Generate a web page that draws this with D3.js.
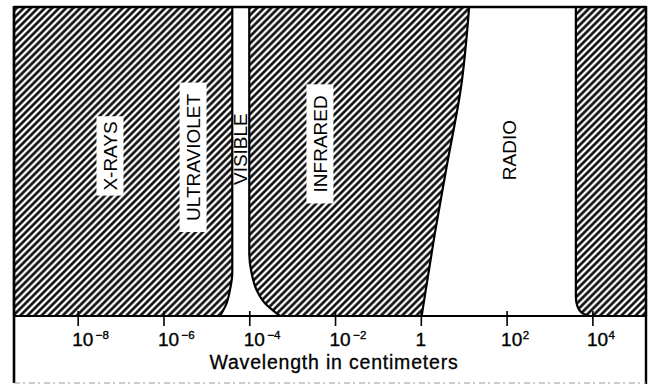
<!DOCTYPE html>
<html><head><meta charset="utf-8">
<script src="https://cdn.jsdelivr.net/npm/d3@7"></script>
<style>
html,body{margin:0;padding:0;background:#fff;}
svg{display:block;}
text{font-family:"Liberation Sans",Arial,Helvetica,sans-serif;fill:#000;}
</style></head>
<body>
<script>
// ---- data (log10 of wavelength in cm, relative height 0..1) ----
const tickExponents = [-8, -6, -4, -2, 0, 2, 4];
const domainExponents = [-9.485, 5.25];
const visibleLeftEdge  = [[-4.396,1],[-4.396,0.139],[-4.45,0.084],[-4.527,0.042],[-4.683,0]];
const visibleRightEdge = [[-4.0,1],[-4.0,0.203],[-3.944,0.138],[-3.828,0.084],[-3.634,0.041],[-3.284,0]];
const radioLeftEdge    = [[1.127,1],[0.951,0.754],[0.601,0.482],[0.329,0.269],[0.079,0.052],[0.019,0]];
const radioRightEdge   = [[3.615,1],[3.615,0.061],[3.65,0.032],[3.74,0.012],[3.918,0]];
const bandNames   = ["X-RAYS","ULTRAVIOLET","VISIBLE","INFRARED","RADIO"];
const bandCenters = [-7.247, -5.31, -4.205, -2.352, 2.065];
const bandHeights = [0.518, 0.513, 0.540, 0.557, 0.537];
const bandBoxed   = [true, true, false, true, false];
const axisTitle = "Wavelength in centimeters";

// ---- layout ----
const W = 652, H = 385;
const fL = 14, fR = 646, fT = 7, axisY = 316, fB = 383;

const svg = d3.select("body").append("svg").attr("width", W).attr("height", H);

const x = d3.scaleLog().domain(domainExponents.map(e => 10 ** e)).range([fL, fR]);
const y = d3.scaleLinear().domain([0, 1]).range([axisY, fT]);
const px = e => x(10 ** e);

// hatch pattern
const defs = svg.append("defs");
const pat = defs.append("pattern").attr("id", "hatch")
  .attr("patternUnits", "userSpaceOnUse").attr("width", 5.0).attr("height", 5.0)
  .attr("patternTransform", "rotate(45)");
pat.append("line").attr("x1", 2.5).attr("y1", -1).attr("x2", 2.5).attr("y2", 7)
  .attr("stroke", "#000").attr("stroke-width", 2.5);

const edge = d3.line().x(d => px(d[0])).y(d => y(d[1])).curve(d3.curveMonotoneY);
const seg = pts => edge(pts).replace(/^M/, "L");

const regionA = `M${fL},${fT}` + seg(visibleLeftEdge) + `L${fL},${axisY}Z`;
const regionB = edge(visibleRightEdge) + seg(radioLeftEdge.slice().reverse()) + "Z";
const regionC = edge(radioRightEdge) + `L${fR},${axisY}L${fR},${fT}Z`;

svg.selectAll("path.region").data([regionA, regionB, regionC]).join("path")
  .attr("class", "region").attr("d", d => d)
  .attr("fill", "url(#hatch)").attr("stroke", "#000").attr("stroke-width", 2.2)
  .attr("stroke-linejoin", "round");

// band labels
const lab = svg.selectAll("g.band").data(bandNames).join("g").attr("class", "band")
  .attr("transform", (d, i) => `translate(${px(bandCenters[i])},${y(bandHeights[i])}) rotate(-90)`);
lab.each(function (d, i) {
  const g = d3.select(this);
  const t = g.append("text").attr("text-anchor", "middle").attr("dy", "0.36em")
    .attr("font-size", 19).text(d);
  if (bandBoxed[i]) {
    const b = t.node().getBBox();
    const padL = i === 0 ? 5 : 11, padS = 4;
    g.insert("rect", "text")
      .attr("x", b.x - padL).attr("width", b.width + 2 * padL)
      .attr("y", -9.5 - padS).attr("height", 19 + 2 * padS)
      .attr("fill", "#fff");
  }
});

// frame
svg.append("line").attr("x1", fL).attr("x2", fR).attr("y1", fT).attr("y2", fT)
  .attr("stroke", "#000").attr("stroke-width", 2.6);
svg.append("line").attr("x1", fL).attr("x2", fL).attr("y1", fT - 1).attr("y2", fB)
  .attr("stroke", "#000").attr("stroke-width", 2.6);
svg.append("line").attr("x1", fR).attr("x2", fR).attr("y1", fT - 1).attr("y2", fB + 1)
  .attr("stroke", "#000").attr("stroke-width", 2.4);
svg.append("line").attr("x1", fL).attr("x2", fR).attr("y1", fB).attr("y2", fB)
  .attr("stroke", "#999").attr("stroke-width", 1).attr("stroke-dasharray", "6,3,2,4");

// axis
const ax = svg.append("g").attr("transform", `translate(0,${axisY})`)
  .call(d3.axisBottom(x).tickValues(tickExponents.map(e => 10 ** e)).tickSize(10).tickFormat(""));
ax.select(".domain").attr("stroke", "#000").attr("stroke-width", 2.2).attr("d", `M${fL},0H${fR}`);
ax.selectAll(".tick line").attr("y1", -5).attr("y2", 10).attr("stroke", "#000").attr("stroke-width", 1.6);

const tl = svg.selectAll("text.tl").data(tickExponents).join("text").attr("class", "tl")
  .attr("y", 345.5).attr("font-size", 19)
  .attr("stroke", "#000").attr("stroke-width", 0.35)
  .attr("x", e => e === 0 ? px(e) : px(e) - 5.5)
  .attr("text-anchor", e => e === 0 ? "middle" : "start");
tl.each(function (e) {
  const t = d3.select(this);
  if (e === 0) { t.text("1"); return; }
  t.append("tspan").text("10");
  t.append("tspan").attr("font-size", 11.5).attr("dx", e < 0 ? 2.5 : 0.5).attr("dy", -6.5)
    .text(e < 0 ? "\u2212" + (-e) : String(e));
});

svg.append("text").attr("x", 334).attr("y", 368.5).attr("text-anchor", "middle")
  .attr("font-size", 19.5).attr("letter-spacing", 0.8)
  .attr("stroke", "#000").attr("stroke-width", 0.3).text(axisTitle);
</script>
</body></html>
